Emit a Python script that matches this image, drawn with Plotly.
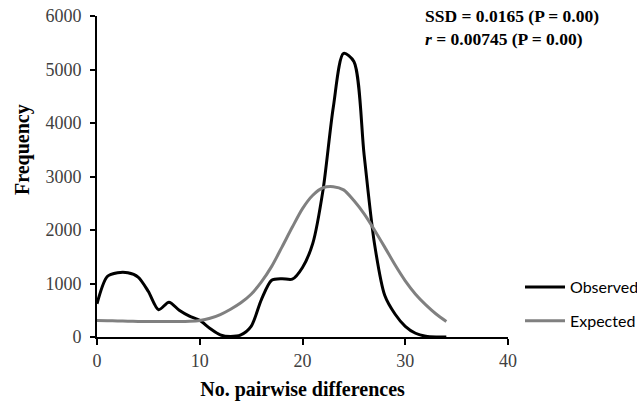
import plotly.graph_objects as go

x_vals = list(range(0, 35))
observed = [620, 1130, 1200, 1200, 1120, 850, 510, 650, 500, 390,
            310, 160, 40, 10, 40, 200, 700, 1060, 1090, 1080,
            1300, 1750, 2750, 4300, 5300, 5150, 3400, 1750, 780, 430,
            200, 70, 15, 0, 0]
expected = [310, 305, 300, 295, 290, 290, 290, 290, 290, 295,
            310, 350, 420, 520, 640, 800, 1030, 1320, 1680, 2050,
            2400, 2650, 2790, 2810, 2750, 2550, 2300, 2000, 1680, 1350,
            1050, 800, 600, 430, 290]
x_ticks = [0, 10, 20, 30, 40]
y_ticks = [0, 1000, 2000, 3000, 4000, 5000, 6000]

serif = "Liberation Serif"
W, H = 637, 402
L, R, T, B = 97, 129, 16, 65
pw, ph = W - L - R, H - T - B

def px(xp):
    return (xp - L) / pw

def py(yp):
    return (H - B - yp) / ph

fig = go.Figure()
fig.add_trace(go.Scatter(x=x_vals, y=observed, mode="lines", name="Observed",
                         line=dict(color="black", width=3, shape="spline", smoothing=0.8),
                         legendgroup="a"))
fig.add_trace(go.Scatter(x=x_vals, y=expected, mode="lines", name="Expected",
                         line=dict(color="#808080", width=3, shape="spline", smoothing=0.8),
                         legendgroup="b"))

fig.update_layout(
    width=W, height=H,
    margin=dict(l=L, r=R, t=T, b=B, autoexpand=False),
    paper_bgcolor="white", plot_bgcolor="white",
    showlegend=True,
    legend=dict(x=px(520), y=py(304), xanchor="left", yanchor="middle",
                font=dict(family="Lato", size=16, color="black"),
                traceorder="grouped", tracegroupgap=10,
                bgcolor="rgba(0,0,0,0)", itemwidth=40),
    xaxis=dict(range=[0, 40], tickvals=x_ticks, showgrid=False, zeroline=False,
               automargin=False,
               showline=True, linecolor="black", linewidth=2,
               ticks="outside", ticklen=6, tickwidth=2, tickcolor="black",
               tickfont=dict(family=serif, size=18, color="#404040"),
               title=dict(text="<b>No. pairwise differences</b>",
                          font=dict(family=serif, size=20, color="black"), standoff=12)),
    yaxis=dict(range=[0, 6000], tickvals=y_ticks, showgrid=False, zeroline=False,
               automargin=False, ticklabelstandoff=5,
               showline=True, linecolor="black", linewidth=2,
               ticks="outside", ticklen=5, tickwidth=2, tickcolor="black",
               tickfont=dict(family=serif, size=18, color="#404040")),
    annotations=[
        dict(xref="paper", yref="paper", x=px(22), y=py(150),
             xanchor="center", yanchor="middle", textangle=-90, showarrow=False,
             text="<b>Frequency</b>",
             font=dict(family=serif, size=20, color="black")),
        dict(xref="paper", yref="paper", x=px(423), y=py(27),
             xanchor="left", yanchor="middle", align="left", showarrow=False,
             text="<b>SSD = 0.0165 (P = 0.00)</b><br><b><i>r</i> = 0.00745 (P = 0.00)</b>",
             font=dict(family=serif, size=17.5, color="black")),
    ],
)
fig.write_html("out.html", config={"displayModeBar": False},
               post_script="document.body.style.margin='0px';document.body.style.padding='0px';")
